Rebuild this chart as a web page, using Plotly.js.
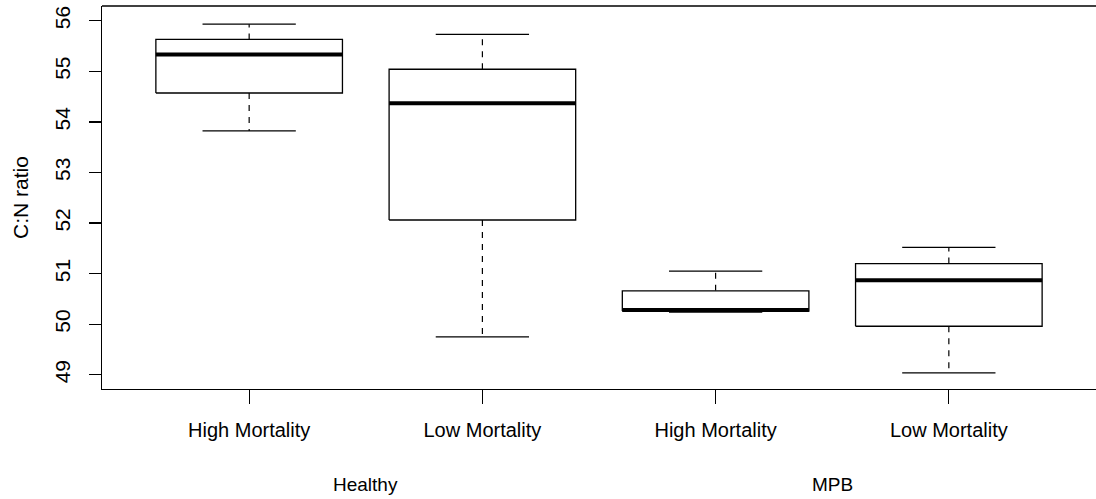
<!DOCTYPE html>
<html>
<head>
<meta charset="utf-8">
<script src="https://cdn.plot.ly/plotly-3.0.1.min.js"></script>
<style>
  html, body { margin: 0; padding: 0; background: #fff; }
  #chart { width: 1096px; height: 499px; }
</style>
</head>
<body>
<div id="chart"></div>
<script>
// ---- Data ----
const groups = ["Healthy", "Healthy", "MPB", "MPB"];
const mortality = ["High Mortality", "Low Mortality", "High Mortality", "Low Mortality"];
const lowerWhisker = [53.82, 49.75, 50.24, 49.04];
const q1 = [54.57, 52.06, 50.26, 49.96];
const median = [55.33, 54.37, 50.28, 50.87];
const q3 = [55.63, 55.04, 50.66, 51.20];
const upperWhisker = [55.93, 55.73, 51.05, 51.52];
const yTicks = [49, 50, 51, 52, 53, 54, 55, 56];

// ---- Build traces ----
const FONT = "Liberation Sans, Arial, Helvetica, sans-serif";
const INK = "#000";
const halfBox = 0.4, halfCap = 0.2;
const traces = [];
mortality.forEach((m, i) => {
  const x = i + 1;
  // dashed whiskers
  traces.push({x: [x, x], y: [q3[i], upperWhisker[i]], mode: "lines",
    line: {color: INK, width: 1.2, dash: "6px,6px"}, hoverinfo: "skip"});
  traces.push({x: [x, x], y: [q1[i], lowerWhisker[i]], mode: "lines",
    line: {color: INK, width: 1.2, dash: "6px,6px"}, hoverinfo: "skip"});
  // staples
  traces.push({x: [x - halfCap, x + halfCap], y: [upperWhisker[i], upperWhisker[i]], mode: "lines",
    line: {color: INK, width: 1.2}, hoverinfo: "skip"});
  traces.push({x: [x - halfCap, x + halfCap], y: [lowerWhisker[i], lowerWhisker[i]], mode: "lines",
    line: {color: INK, width: 1.2}, hoverinfo: "skip"});
  // box
  traces.push({x: [x - halfBox, x + halfBox, x + halfBox, x - halfBox, x - halfBox],
    y: [q1[i], q1[i], q3[i], q3[i], q1[i]], mode: "lines", fill: "toself",
    fillcolor: "#fff", line: {color: INK, width: 1.3}, hoverinfo: "skip"});
  // median
  traces.push({x: [x - halfBox, x + halfBox], y: [median[i], median[i]], mode: "lines",
    line: {color: INK, width: 4}, hoverinfo: "skip"});
});

// group labels under the mortality labels
const groupNames = [...new Set(groups)];
const annotations = groupNames.map(g => {
  const idx = groups.map((v, k) => v === g ? k + 1 : null).filter(v => v !== null);
  const cx = idx.reduce((a, b) => a + b, 0) / idx.length;
  return {x: cx, xref: "x", y: -0.25, yref: "paper", text: g, showarrow: false,
    xanchor: "center", yanchor: "middle", font: {family: FONT, size: 19, color: INK}};
});

const layout = {
  width: 1096, height: 499,
  margin: {l: 102, r: 0, t: 6, b: 110},
  paper_bgcolor: "#fff", plot_bgcolor: "#fff",
  showlegend: false, hovermode: false,
  font: {family: FONT, color: INK},
  xaxis: {
    range: [0.369, 4.631], showgrid: false, zeroline: false,
    showline: true, linecolor: INK, linewidth: 1.3,
    ticks: "outside", ticklen: 14, tickcolor: INK, tickwidth: 1.3,
    tickvals: mortality.map((_, i) => i + 1), ticktext: mortality,
    tickfont: {family: FONT, size: 20, color: INK}, ticklabelstandoff: 9
  },
  yaxis: {
    range: [48.72, 56.29], showgrid: false, zeroline: false,
    showline: true, linecolor: INK, linewidth: 1.3,
    ticks: "outside", ticklen: 12, tickcolor: INK, tickwidth: 1.3,
    tickvals: yTicks, ticktext: yTicks.map(String), tickangle: -90,
    tickfont: {family: FONT, size: 21, color: INK}, ticklabelstandoff: 10,
    title: {text: "C:N ratio", font: {family: FONT, size: 21, color: INK}, standoff: 17}
  },
  shapes: [{type: "line", xref: "paper", yref: "paper", x0: 0, x1: 1, y0: 1, y1: 1,
    line: {color: INK, width: 1.3}}],
  annotations: annotations
};

Plotly.newPlot("chart", traces, layout, {staticPlot: true, displayModeBar: false});
</script>
</body>
</html>
